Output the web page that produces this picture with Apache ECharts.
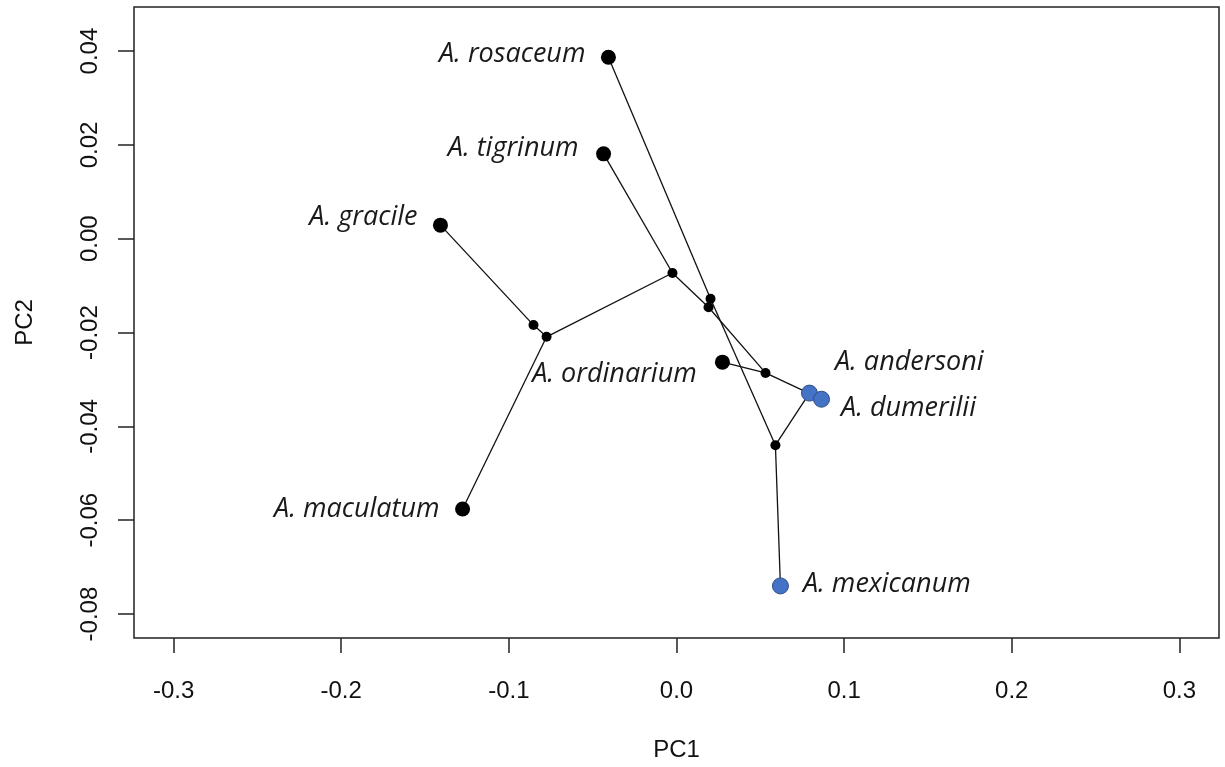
<!DOCTYPE html>
<html>
<head>
<meta charset="utf-8">
<script src="https://cdn.jsdelivr.net/npm/echarts@6/dist/echarts.min.js"></script>
<style>
html,body{margin:0;padding:0;background:#fff;}
#chart{width:1225px;height:767px;}
</style>
</head>
<body>
<div id="chart"></div>
<script>
// ---- Data ----
const blackTipNames = ['A. rosaceum','A. tigrinum','A. gracile','A. maculatum','A. ordinarium'];
const blackTipX = [-0.0406, -0.0435, -0.1408, -0.1276, 0.0274];
const blackTipY = [0.0387, 0.0181, 0.0029, -0.0576, -0.0263];

const blueTipNames = ['A. andersoni','A. dumerilii','A. mexicanum'];
const blueTipX = [0.0793, 0.0865, 0.0620];
const blueTipY = [-0.0329, -0.0342, -0.0740];

const nodeNames = ['n1','n2','n3','n4','n5','n6','n7'];
const nodeX = [-0.0853, -0.0775, -0.0024, 0.0203, 0.0191, 0.0531, 0.0590];
const nodeY = [-0.0184, -0.0209, -0.0073, -0.0128, -0.0146, -0.0286, -0.0440];

const edgeFrom = ['n1','n1','n2','n2','n3','n3','n5','n5','n4','n4','n6','n6','n7','n7'];
const edgeTo   = ['A. gracile','n2','A. maculatum','n3','A. tigrinum','n5','n4','n6','A. rosaceum','n7','A. ordinarium','A. dumerilii','A. andersoni','A. mexicanum'];

const xTicks = [-0.3, -0.2, -0.1, 0.0, 0.1, 0.2, 0.3];
const yTicks = [-0.08, -0.06, -0.04, -0.02, 0.00, 0.02, 0.04];

// ---- Layout / style (label placement relative to point centre, px) ----
const labelPlace = {
  'A. rosaceum':  {off:[-23,-3],  align:'right'},
  'A. tigrinum':  {off:[-25,-6],  align:'right'},
  'A. gracile':   {off:[-23,-8],  align:'right'},
  'A. maculatum': {off:[-23,0],   align:'right'},
  'A. ordinarium':{off:[-108,12], align:'center'},
  'A. andersoni': {off:[26,-30],  align:'left'},
  'A. dumerilii': {off:[20,10],   align:'left'},
  'A. mexicanum': {off:[23,-1],   align:'left'}
};
const TIP_SIZE = 15, BLUE_SIZE = 16, NODE_SIZE = 10;

// ---- Build ----
const coordOf = {};
blackTipNames.forEach((n,i)=>coordOf[n]=[blackTipX[i],blackTipY[i]]);
blueTipNames.forEach((n,i)=>coordOf[n]=[blueTipX[i],blueTipY[i]]);
nodeNames.forEach((n,i)=>coordOf[n]=[nodeX[i],nodeY[i]]);

const edgeData = edgeFrom.map((f,i)=>({coords:[coordOf[f], coordOf[edgeTo[i]]]}));

function tipItem(name, x, y, size){
  const p = labelPlace[name];
  return {
    name: name,
    value: [x, y],
    label: {
      show: true,
      position: [p.off[0] + size/2, p.off[1] + size/2],
      align: p.align,
      verticalAlign: 'middle',
      formatter: name
    }
  };
}

const labelFont = {
  fontFamily: '"Open Sans", sans-serif',
  fontStyle: 'italic',
  fontSize: 27,
  color: '#1a1a1a'
};
const axisFont = {fontFamily: '"Liberation Sans", Arial, sans-serif', fontSize: 24, color: '#111'};

const chart = echarts.init(document.getElementById('chart'), null, {renderer:'canvas'});
chart.setOption({
  animation: false,
  backgroundColor: '#fff',
  grid: {
    left: 134, top: 7, width: 1085, height: 631,
    show: true, borderColor: '#222', borderWidth: 1.5, backgroundColor: 'transparent'
  },
  xAxis: {
    type: 'value',
    min: -0.3236, max: 0.3236,
    name: 'PC1', nameLocation: 'middle', nameGap: 100,
    nameTextStyle: axisFont,
    axisLine: {show: false, onZero: false},
    splitLine: {show: false},
    axisTick: {show: true, length: 15, customValues: xTicks, lineStyle: {color: '#222', width: 1.5}},
    axisLabel: Object.assign({
      customValues: xTicks, margin: 41,
      formatter: v => v.toFixed(1)
    }, axisFont)
  },
  yAxis: {
    type: 'value',
    min: -0.0851, max: 0.0494,
    name: 'PC2', nameLocation: 'middle', nameGap: 97, nameRotate: 90,
    nameTextStyle: axisFont,
    axisLine: {show: false, onZero: false},
    splitLine: {show: false},
    axisTick: {show: true, length: 16, customValues: yTicks, lineStyle: {color: '#222', width: 1.5}},
    axisLabel: Object.assign({
      customValues: yTicks, margin: 32, rotate: 90,
      formatter: v => v.toFixed(2)
    }, axisFont)
  },
  series: [
    {
      type: 'lines', coordinateSystem: 'cartesian2d', z: 2,
      lineStyle: {color: '#111', width: 1.3, opacity: 1},
      data: edgeData
    },
    {
      type: 'scatter', z: 3, symbol: 'circle', symbolSize: NODE_SIZE,
      itemStyle: {color: '#000', opacity: 1},
      data: nodeNames.map((n,i)=>({name:n, value:[nodeX[i], nodeY[i]]}))
    },
    {
      type: 'scatter', z: 4, symbol: 'circle', symbolSize: TIP_SIZE,
      itemStyle: {color: '#000', opacity: 1},
      label: labelFont,
      data: blackTipNames.map((n,i)=>tipItem(n, blackTipX[i], blackTipY[i], TIP_SIZE))
    },
    {
      type: 'scatter', z: 5, symbol: 'circle', symbolSize: BLUE_SIZE,
      itemStyle: {color: '#4472C4', borderColor: '#2F4F8A', borderWidth: 1, opacity: 1},
      label: labelFont,
      data: blueTipNames.map((n,i)=>tipItem(n, blueTipX[i], blueTipY[i], BLUE_SIZE))
    }
  ]
});
</script>
</body>
</html>
